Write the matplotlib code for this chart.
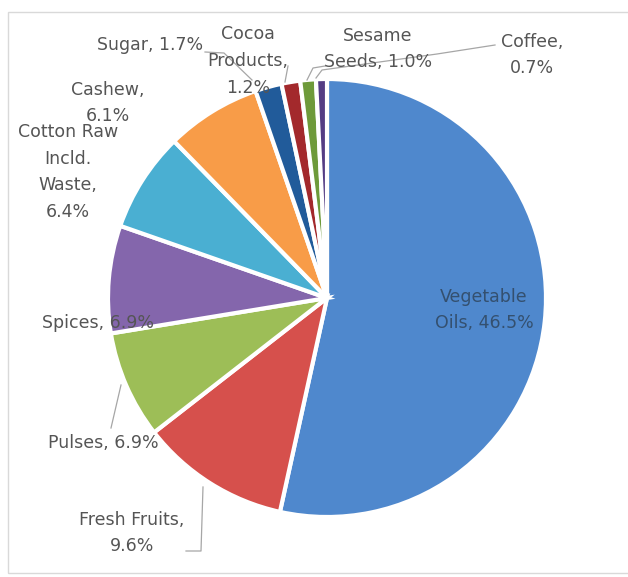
import matplotlib.pyplot as plt
from matplotlib.patches import Rectangle

W, H = 628, 577

# data
labels = ['Vegetable Oils', 'Fresh Fruits', 'Pulses', 'Spices', 'Cotton Raw Incld. Waste',
          'Cashew', 'Sugar', 'Cocoa Products', 'Sesame Seeds', 'Coffee']
shares = [46.5, 9.6, 6.9, 6.9, 6.4, 6.1, 1.7, 1.2, 1.0, 0.7]
colors = ['#4F88CD', '#D6504C', '#9DBE57', '#8466AC', '#4AAFD2', '#F89C48',
          '#215B9A', '#A3292C', '#6E9A3A', '#543D84']
label_text = ['Vegetable\nOils, 46.5%', 'Fresh Fruits,\n9.6%', 'Pulses, 6.9%', 'Spices, 6.9%',
              'Cotton Raw\nIncld.\nWaste,\n6.4%', 'Cashew,\n6.1%', 'Sugar, 1.7%',
              'Cocoa\nProducts,\n1.2%', 'Sesame\nSeeds, 1.0%', 'Coffee,\n0.7%']


def px(x, y):
    # pixel position (from top-left) -> axes data coords
    return x, H - y


fig = plt.figure(figsize=(W / 100, H / 100), dpi=100)
ax = fig.add_axes([0, 0, 1, 1])

# chart frame
ax.add_patch(Rectangle(px(8, 573), W, 561, fill=False, edgecolor='#d9d9d9', lw=1))

ax.pie(shares, colors=colors, startangle=90, counterclock=False,
       center=px(327, 298), radius=219, frame=True,
       wedgeprops=dict(edgecolor='white', linewidth=3))
ax.set_xlim(0, W)
ax.set_ylim(0, H)
ax.set_aspect('equal')
ax.axis('off')

# label positions in pixels
pos = [(484, 310), (132, 533), (103, 443), (98, 323), (68, 172), (108, 103),
       (150, 45), (248, 61), (378, 49), (532, 55)]
gray = '#555555'
for i, (t, (x, y)) in enumerate(zip(label_text, pos)):
    c = '#34506F' if i == 0 else gray
    ax.text(*px(x, y), t, ha='center', va='center', fontsize=12.5, color=c,
            linespacing=1.63)

# leader lines
leaders = [
    [(205, 52), (224, 53), (252, 80)],
    [(288, 66), (285, 82)],
    [(325, 66), (313, 68), (307, 80)],
    [(495, 45), (437, 54), (322, 70), (316, 78)],
    [(121, 385), (111, 428)],
    [(203, 487), (201, 551), (186, 551)],
]
for pts in leaders:
    xs = [p[0] for p in pts]
    ys = [H - p[1] for p in pts]
    ax.plot(xs, ys, color='#a6a6a6', lw=0.9)

fig.savefig('out.png', dpi=100)
